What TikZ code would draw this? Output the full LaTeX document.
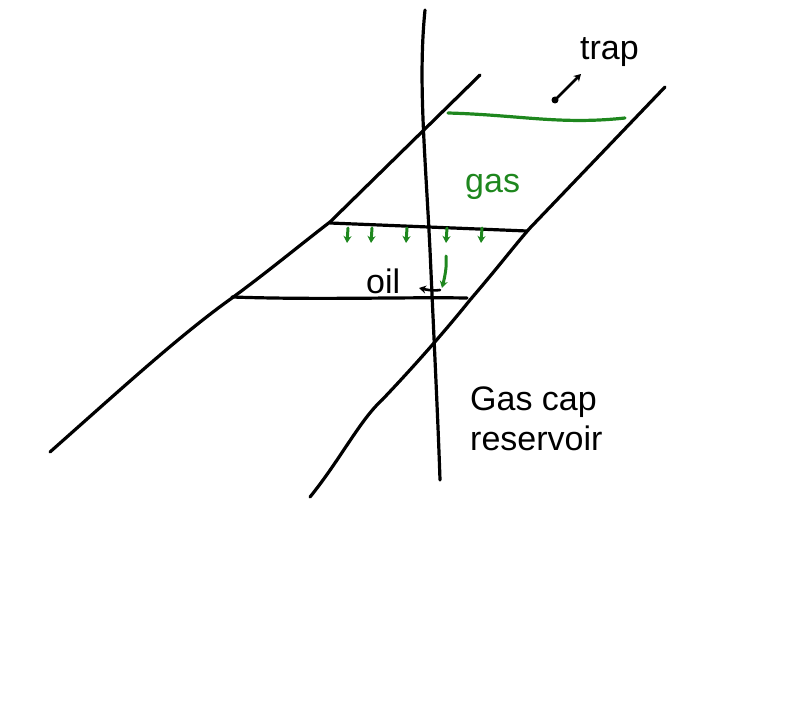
\documentclass[tikz,border=0pt]{standalone}
\usepackage{fontspec}
\setmainfont{Liberation Sans}
\usetikzlibrary{arrows.meta}
\definecolor{gr}{RGB}{30,135,30}
\begin{document}
\begin{tikzpicture}[x=1pt,y=-1pt,
  ln/.style={line width=3.2pt,line cap=round,line join=round},
  gl/.style={ln,draw=gr},
  ga/.style={gl,line width=3pt,-{Stealth[length=7pt,width=8pt]}},
  lbl/.style={font=\fontsize{34}{40}\selectfont,anchor=base west,inner sep=0pt}]
\useasboundingbox (0,0) rectangle (800,703);
% fault
\draw[ln] (425,10) .. controls (418,80) and (425,150) .. (430,250) .. controls (434,340) and (438,420) .. (440,480);
% boundaries
\draw[ln] (50,452) .. controls (120,390) and (180,335) .. (232,298) .. controls (270,270) and (300,245) .. (330,222) -- (480,75);
\draw[ln] (310,497) .. controls (340,460) and (360,420) .. (382,400) .. controls (420,360) and (450,325) .. (470,300) .. controls (500,265) and (515,245) .. (530,228) -- (665,87);
% contacts
\draw[gl] (448,113) .. controls (520,115) and (560,125) .. (625,118);
\draw[ln] (330,223) -- (527,231);
\draw[ln] (232,297) .. controls (320,300) and (400,297) .. (467,298);
% gas arrows
\foreach \x in {348,372,407,447,482} \draw[ga] (\x,228) -- (\x-1,243);
\draw[ga] (446,256) .. controls (447,266) and (445,276) .. (442,288);
\draw[ln,line width=2.6pt,-{Stealth[length=7pt,width=8pt]}] (440,290) .. controls (432,291) and (428,290) .. (419,288);
% trap
\fill (555,100) circle (3.5pt);
\draw[ln,line width=2.6pt,-{Stealth[length=7pt,width=8pt]}] (555,100) -- (581,74);
\node[lbl] (trap) at (580,60) {trap};
\node[lbl,text=gr] (gas) at (465,193) {gas};
\node[lbl] (oil) at (366,293) {oil};
\node[lbl] (gc) at (470,410) {Gas cap};
\node[lbl] (res) at (470,450) {reservoir};
\end{tikzpicture}
\end{document}
